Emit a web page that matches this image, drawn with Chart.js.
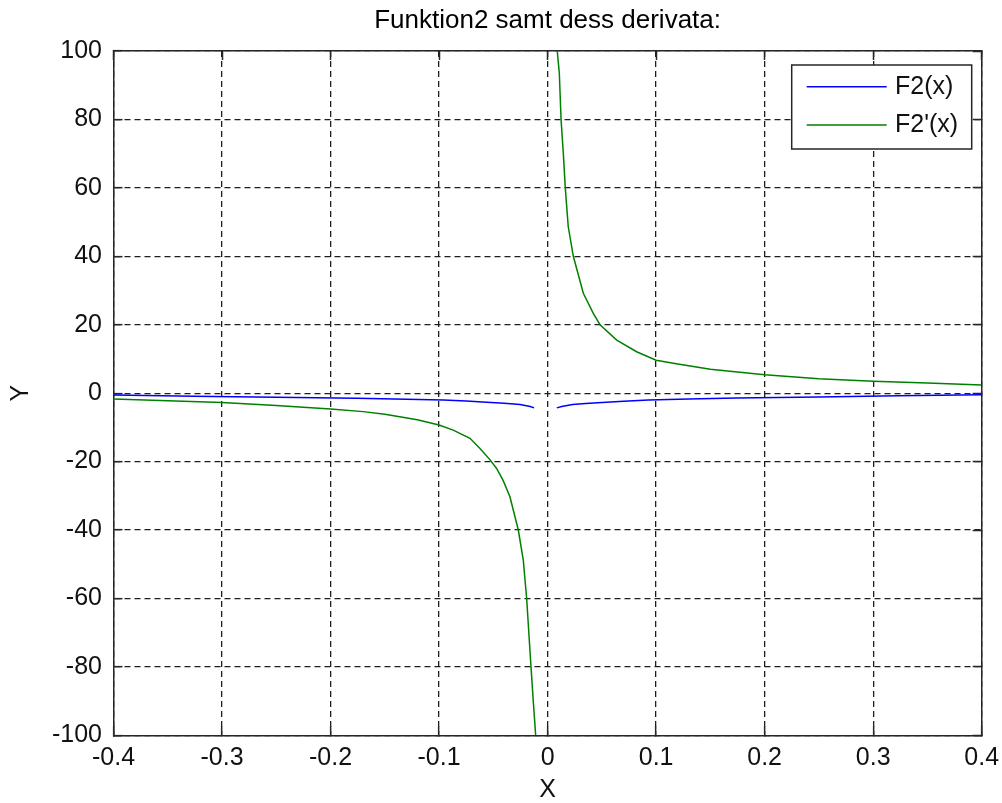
<!DOCTYPE html>
<html>
<head>
<meta charset="utf-8">
<script src="https://cdn.jsdelivr.net/npm/chart.js@4.4.0/dist/chart.umd.min.js"></script>
<style>
html,body{margin:0;padding:0;background:#ffffff;}
canvas{display:block;}
</style>
</head>
<body>
<canvas id="c" width="1002" height="803"></canvas>
<script>
// ---- text ----
const titleText = 'Funktion2 samt dess derivata:';
const xAxisLabel = 'X';
const yAxisLabel = 'Y';
const seriesNames = ['F2(x)', "F2'(x)"];

// ---- ticks ----
const xTickValues = [-0.4, -0.3, -0.2, -0.1, 0, 0.1, 0.2, 0.3, 0.4];
const xTickLabels = ['-0.4', '-0.3', '-0.2', '-0.1', '0', '0.1', '0.2', '0.3', '0.4'];
const yTickValues = [-100, -80, -60, -40, -20, 0, 20, 40, 60, 80, 100];
const yTickLabels = ['-100', '-80', '-60', '-40', '-20', '0', '20', '40', '60', '80', '100'];

// ---- series: F2(x) (blue) ----
const f2X = [-0.4, -0.326, -0.25, -0.176, -0.13, -0.096, -0.075, -0.056, -0.04, -0.0254, -0.016, -0.0125,
             0,
             0.0085, 0.013, 0.023, 0.035, 0.054, 0.07, 0.093, 0.13, 0.174, 0.25, 0.323, 0.4];
const f2Y = [-0.55, -0.9, -1.2, -1.5, -1.75, -2.0, -2.3, -2.65, -2.95, -3.3, -3.9, -4.3,
             null,
             -4.3, -3.9, -3.3, -3.0, -2.65, -2.35, -2.0, -1.7, -1.45, -1.1, -0.78, -0.5];

// ---- series: F2'(x) (green) ----
const df2X = [-0.4, -0.35, -0.3, -0.25, -0.2, -0.17, -0.15, -0.12, -0.1, -0.087, -0.0715, -0.0623, -0.053,
              -0.047, -0.041, -0.0347, -0.027, -0.0224, -0.0193, -0.0153, -0.0132, -0.011,
              0,
              0.0089, 0.0108, 0.0124, 0.0145, 0.0163, 0.019, 0.0237, 0.0329, 0.0421, 0.0483, 0.0637,
              0.082, 0.1, 0.12, 0.15, 0.2, 0.25, 0.3, 0.35, 0.4];
const df2Y = [-1.7, -2.2, -2.7, -3.6, -4.6, -5.4, -6.2, -7.8, -9.3, -10.8, -13.2, -16.2, -19.5,
              -22.0, -25.5, -30.3, -40, -48.8, -60, -80, -90, -100,
              null,
              100, 93.5, 80, 70, 60, 48.7, 40, 29.2, 23.3, 20, 15.5,
              12.1, 9.6, 8.5, 7.0, 5.4, 4.2, 3.5, 3.0, 2.4];

const seriesColors = ['#0000ff', '#008000'];

// ---- styling constants ----
const FONT = "'Liberation Sans', Arial, Helvetica, sans-serif";
const AXIS_COLOR = '#262626';
const GRID_COLOR = '#1e1e1e';

function fixScale(prop, val) {
  return function (scale) {
    scale[prop] = val;
    scale.paddingLeft = 0; scale.paddingRight = 0;
    scale.paddingTop = 0; scale.paddingBottom = 0;
  };
}

const legendBoxPlugin = {
  id: 'legendBox',
  afterDatasetsDraw(chart) {
    const { ctx, chartArea } = chart;
    const w = 180, h = 84;
    const bx = chartArea.right - 10 - w;
    const by = chartArea.top + 14;
    ctx.save();
    ctx.fillStyle = '#ffffff';
    ctx.fillRect(bx, by, w, h);
    ctx.lineWidth = 1.5;
    ctx.strokeStyle = AXIS_COLOR;
    ctx.strokeRect(bx, by, w, h);
    const rows = [21.7, 60];
    chart.data.datasets.forEach((ds, i) => {
      const y = by + rows[i];
      ctx.beginPath();
      ctx.strokeStyle = ds.borderColor;
      ctx.lineWidth = 1.5;
      ctx.moveTo(bx + 15, y);
      ctx.lineTo(bx + 95, y);
      ctx.stroke();
      ctx.fillStyle = '#111111';
      ctx.font = '25px ' + FONT;
      ctx.textAlign = 'left';
      ctx.textBaseline = 'middle';
      ctx.fillText(ds.label, bx + 103.3, y);
    });
    ctx.restore();
  }
};

const tickFont = { family: FONT, size: 25 };

new Chart(document.getElementById('c'), {
  type: 'line',
  data: {
    datasets: [
      {
        label: seriesNames[0],
        data: f2X.map((x, i) => ({ x: x, y: f2Y[i] })),
        borderColor: seriesColors[0],
        backgroundColor: seriesColors[0],
        borderWidth: 1.5,
        pointRadius: 0,
        tension: 0,
        spanGaps: false,
        fill: false
      },
      {
        label: seriesNames[1],
        data: df2X.map((x, i) => ({ x: x, y: df2Y[i] })),
        borderColor: seriesColors[1],
        backgroundColor: seriesColors[1],
        borderWidth: 1.5,
        pointRadius: 0,
        tension: 0,
        spanGaps: false,
        fill: false
      }
    ]
  },
  options: {
    responsive: false,
    animation: false,
    devicePixelRatio: 1,
    events: [],
    layout: { autoPadding: false, padding: { left: 0, right: 20.3, top: 0, bottom: 0 } },
    plugins: {
      legend: { display: false },
      tooltip: { enabled: false },
      title: {
        display: true,
        text: titleText,
        fullSize: false,
        color: '#000000',
        font: { family: FONT, size: 26, weight: 'normal', lineHeight: 1 },
        padding: { top: 8, bottom: 17 }
      }
    },
    scales: {
      x: {
        type: 'linear',
        position: 'bottom',
        min: -0.4, max: 0.4,
        afterBuildTicks: s => { s.ticks = xTickValues.map(v => ({ value: v })); },
        afterFit: fixScale('height', 67.7),
        ticks: {
          autoSkip: false, maxRotation: 0, minRotation: 0,
          color: '#111111', font: tickFont, padding: 17,
          callback: (v, i) => xTickLabels[i]
        },
        grid: {
          display: true, drawOnChartArea: true, drawTicks: true,
          color: GRID_COLOR, lineWidth: 1.3,
          borderDash: [6, 4],
          tickLength: -9, tickColor: AXIS_COLOR, tickWidth: 1.5, tickBorderDash: []
        },
        border: { display: true, color: AXIS_COLOR, width: 1.5, dash: [6, 4] },
        title: {
          display: true, text: xAxisLabel, color: '#111111',
          font: { family: FONT, size: 25, lineHeight: 1 },
          padding: { top: 0, bottom: 0.5 }
        }
      },
      x2: {
        type: 'linear',
        position: 'top',
        min: -0.4, max: 0.4,
        afterBuildTicks: s => { s.ticks = xTickValues.map(v => ({ value: v })); },
        afterFit: fixScale('height', 0),
        ticks: { display: false },
        grid: {
          display: true, drawOnChartArea: false, drawTicks: true,
          tickLength: -9, tickColor: AXIS_COLOR, tickWidth: 1.5, tickBorderDash: []
        },
        border: { display: true, color: AXIS_COLOR, width: 1.5 }
      },
      y: {
        type: 'linear',
        position: 'left',
        min: -100, max: 100,
        afterBuildTicks: s => { s.ticks = yTickValues.map(v => ({ value: v })); },
        afterFit: fixScale('width', 113.5),
        ticks: {
          autoSkip: false,
          color: '#111111', font: tickFont, padding: 20.5,
          callback: (v, i) => yTickLabels[i]
        },
        grid: {
          display: true, drawOnChartArea: true, drawTicks: true,
          color: GRID_COLOR, lineWidth: 1.3,
          borderDash: [6, 4],
          tickLength: -9, tickColor: AXIS_COLOR, tickWidth: 1.5, tickBorderDash: []
        },
        border: { display: true, color: AXIS_COLOR, width: 1.5, dash: [6, 4] },
        title: {
          display: true, text: yAxisLabel, color: '#111111',
          font: { family: FONT, size: 25, lineHeight: 1 },
          padding: { top: 8.5, bottom: 0 }
        }
      },
      y2: {
        type: 'linear',
        position: 'right',
        min: -100, max: 100,
        afterBuildTicks: s => { s.ticks = yTickValues.map(v => ({ value: v })); },
        afterFit: fixScale('width', 0),
        ticks: { display: false },
        grid: {
          display: true, drawOnChartArea: false, drawTicks: true,
          tickLength: -9, tickColor: AXIS_COLOR, tickWidth: 1.5, tickBorderDash: []
        },
        border: { display: true, color: AXIS_COLOR, width: 1.5 }
      }
    }
  },
  plugins: [legendBoxPlugin]
});
</script>
</body>
</html>
